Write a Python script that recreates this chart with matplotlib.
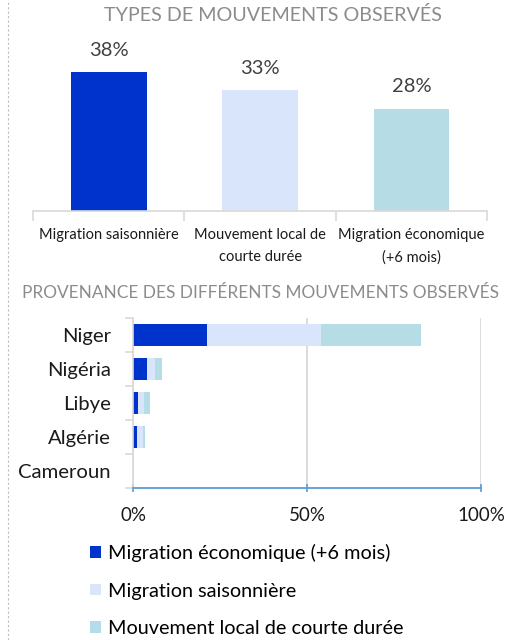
import matplotlib
matplotlib.use("Agg")
import matplotlib.pyplot as plt
from matplotlib.lines import Line2D

plt.rcParams['font.family'] = ['Lato', 'DejaVu Sans']

# top chart data
types = ["Migration saisonnière", "Mouvement local de\ncourte durée", "Migration économique\n(+6 mois)"]
type_pct = [38, 33, 28]

# bottom chart data
pays = ["Niger", "Nigéria", "Libye", "Algérie", "Cameroun"]
eco = [21.3, 4.0, 1.5, 1.1, 0]
sais = [32.7, 2.2, 1.7, 1.7, 0]
local = [28.8, 2.1, 1.7, 0.6, 0]
series_names = ["Migration économique (+6 mois)", "Migration saisonnière", "Mouvement local de courte durée"]

c_dark = "#0033CC"
c_light = "#D9E5FB"
c_teal = "#B6DDE5"
grid_c = "#D9D9D9"

fig = plt.figure(figsize=(5.12, 6.4), dpi=100)

# ---- top chart
ax1 = fig.add_axes([0.0645, 0.670, 0.887, 0.229])
ax1.bar(range(3), type_pct, width=0.5, color=[c_dark, c_light, c_teal])
for i, v in enumerate(type_pct):
    ax1.text(i, v + 3.6, f"{v}%", ha="center", va="bottom", fontsize=14.5, color="#404040")
ax1.set_xlim(-0.5, 2.5)
ax1.set_ylim(0, 40)
ax1.set_yticks([])
for s in ["top", "right", "left"]:
    ax1.spines[s].set_visible(False)
ax1.spines["bottom"].set_color(grid_c)
ax1.spines["bottom"].set_linewidth(1.2)
ax1.set_xticks(range(3))
ax1.set_xticklabels(types, fontsize=10.5, color="#1a1a1a", linespacing=1.75)
ax1.tick_params(axis="x", which="major", length=0, pad=12)
ax1.set_xticks([-0.5, 0.5, 1.5, 2.5], minor=True)
ax1.tick_params(axis="x", which="minor", length=7, color=grid_c, width=1.2)
fig.text(0.533, 0.977, "TYPES DE MOUVEMENTS OBSERVÉS", ha="center", va="center",
         fontsize=14.2, color="#8C8C8C")

# ---- bottom chart
ax2 = fig.add_axes([0.2598, 0.2375, 0.6797, 0.2656])
y = range(len(pays))
h = 0.66
ax2.barh(y, eco, height=h, color=c_dark, label=series_names[0])
ax2.barh(y, sais, height=h, left=eco, color=c_light, label=series_names[1])
left2 = [a + b for a, b in zip(eco, sais)]
ax2.barh(y, local, height=h, left=left2, color=c_teal, label=series_names[2])
ax2.set_xlim(0, 100)
ax2.set_ylim(4.5, -0.5)
ax2.set_xticks([0, 50, 100])
ax2.set_xticklabels(["0%", "50%", "100%"], fontsize=13.5, color="#1a1a1a")
ax2.tick_params(axis="x", length=6, direction="inout", color="#5B9BD5", width=1.2, pad=11)
ax2.set_yticks(list(y))
ax2.set_yticklabels(pays, fontsize=14.6, color="#1a1a1a")
ax2.tick_params(axis="y", which="major", length=0, pad=16)
ax2.set_yticks([-0.5, 0.5, 1.5, 2.5, 3.5, 4.5], minor=True)
ax2.tick_params(axis="y", which="minor", length=6, color=grid_c, width=1.2)
ax2.xaxis.grid(True, color=grid_c, linewidth=1.3)
ax2.set_axisbelow(True)
for s in ["top", "right"]:
    ax2.spines[s].set_visible(False)
ax2.spines["left"].set_color(grid_c)
ax2.spines["left"].set_linewidth(1.2)
ax2.spines["bottom"].set_color("#5B9BD5")
ax2.spines["bottom"].set_linewidth(1.3)
fig.text(0.508, 0.5425, "PROVENANCE DES DIFFÉRENTS MOUVEMENTS OBSERVÉS", ha="center", va="center",
         fontsize=12.4, color="#8C8C8C")

handles, labels = ax2.get_legend_handles_labels()
fig.legend(handles, labels, loc="upper left", bbox_to_anchor=(0.16, 0.163),
           bbox_transform=fig.transFigure, frameon=False, fontsize=14.3,
           handlelength=0.55, handleheight=0.55, handletextpad=0.35, labelspacing=1.05,
           borderaxespad=0)

# dashed border on the left
fig.add_artist(Line2D([0.016, 0.016], [0, 1], transform=fig.transFigure,
                      color="#BFBFBF", linestyle=(0, (2, 2)), linewidth=0.8))

fig.savefig("out.png", dpi=100)
